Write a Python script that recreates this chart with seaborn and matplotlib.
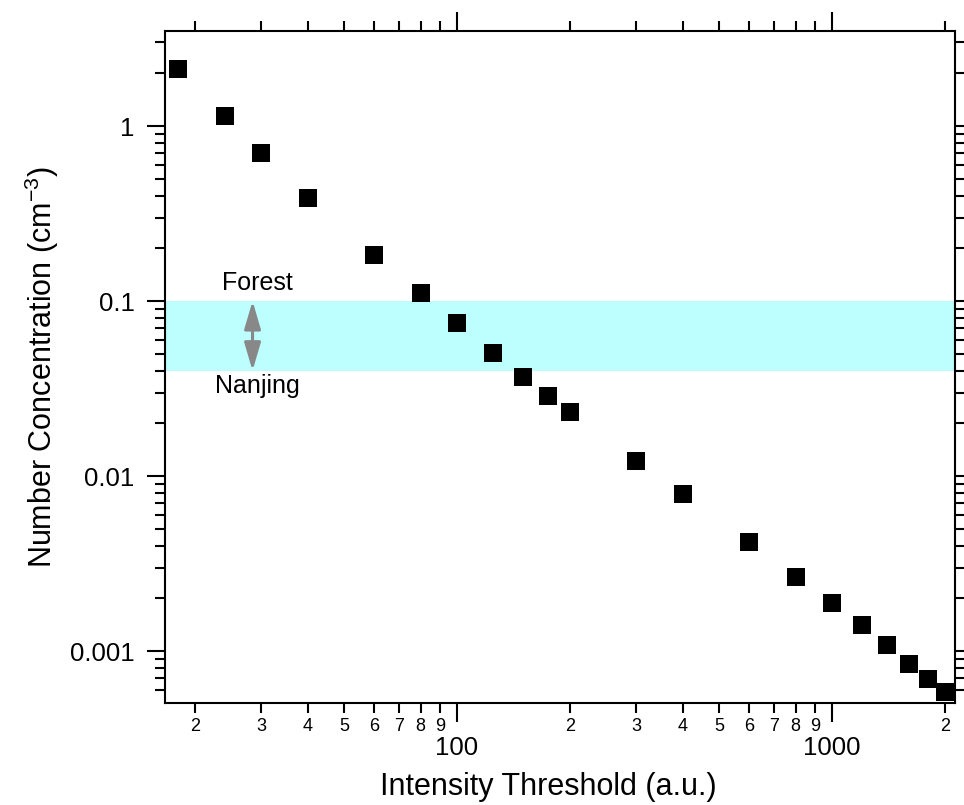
import matplotlib
matplotlib.use("Agg")
import matplotlib.pyplot as plt
import seaborn as sns

# ==========================================
# Data
# ==========================================
threshold = [18, 24, 30, 40, 60, 80, 100, 125, 150, 175, 200,
             300, 400, 600, 800, 1000, 1200, 1400, 1600, 1800, 2000]
concentration = [2.12, 1.14, 0.70, 0.388, 0.183, 0.111, 0.0749, 0.0504,
                 0.0368, 0.0286, 0.0232, 0.0122, 0.00789, 0.0042, 0.00265,
                 0.00188, 0.00141, 0.00108, 0.000843, 0.00069, 0.000583]

band_low, band_high = 0.04, 0.1
band_labels = ["Forest", "Nanjing"]

x_major_ticks = [100, 1000]
x_major_labels = ["100", "1000"]
x_minor_ticks = [20, 30, 40, 50, 60, 70, 80, 90,
                 200, 300, 400, 500, 600, 700, 800, 900, 2000]
x_minor_labels = ["2", "3", "4", "5", "6", "7", "8", "9",
                  "2", "3", "4", "5", "6", "7", "8", "9", "2"]
y_major_ticks = [0.001, 0.01, 0.1, 1]
y_major_labels = ["0.001", "0.01", "0.1", "1"]
y_minor_ticks = [0.0006, 0.0007, 0.0008, 0.0009,
                 0.002, 0.003, 0.004, 0.005, 0.006, 0.007, 0.008, 0.009,
                 0.02, 0.03, 0.04, 0.05, 0.06, 0.07, 0.08, 0.09,
                 0.2, 0.3, 0.4, 0.5, 0.6, 0.7, 0.8, 0.9, 2, 3]

# ==========================================
# Style
# ==========================================
sns.set_style("ticks")
plt.rcParams['font.family'] = ['Liberation Sans', 'DejaVu Sans']
plt.rcParams['mathtext.default'] = 'regular'
for key in ['text.color', 'axes.labelcolor', 'xtick.color', 'ytick.color', 'axes.edgecolor']:
    plt.rcParams[key] = 'black'

fig = plt.figure(figsize=(9.64, 8.05), dpi=100)
ax = fig.add_axes([165 / 964, 1 - 703 / 805, 790 / 964, 672 / 805])

ax.axhspan(band_low, band_high, color='#BDFEFE', lw=0, zorder=0)

sns.scatterplot(x=threshold, y=concentration, marker='s', s=150,
                color='black', edgecolor='black', linewidth=0,
                ax=ax, zorder=3, clip_on=False)

ax.set_xscale('log')
ax.set_yscale('log')
ax.set_xlim(16.65, 2128)
ax.set_ylim(0.000505, 3.49)

# arrow between the two reference levels
ax.annotate('', xy=(28.5, band_high), xytext=(28.5, band_low),
            arrowprops=dict(arrowstyle='<|-|>,head_length=0.85,head_width=0.25',
                            color='#888888', lw=2.2, mutation_scale=20,
                            shrinkA=0, shrinkB=0))
ax.text(29.3, 0.126, band_labels[0], ha='center', va='center', fontsize=18)
ax.text(29.3, 0.0325, band_labels[1], ha='center', va='center', fontsize=18)

# ticks
ax.set_xticks(x_major_ticks)
ax.set_xticklabels(x_major_labels)
ax.set_xticks(x_minor_ticks, minor=True)
ax.set_xticklabels(x_minor_labels, minor=True)
ax.set_yticks(y_major_ticks)
ax.set_yticklabels(y_major_labels)
ax.set_yticks(y_minor_ticks, minor=True)
ax.set_yticklabels([], minor=True)

ax.tick_params(axis='both', which='both', direction='out', width=1.5,
               top=True, right=True, labeltop=False, labelright=False)
ax.tick_params(axis='x', which='major', length=14, labelsize=18.5, pad=10)
ax.tick_params(axis='x', which='minor', length=7.5, labelsize=13, pad=3)
ax.tick_params(axis='y', which='major', length=13, labelsize=18.5, pad=9)
ax.tick_params(axis='y', which='minor', length=7)

for sp in ax.spines.values():
    sp.set_linewidth(1.5)
    sp.set_color('black')

ax.set_xlabel("Intensity Threshold (a.u.)", fontsize=22)
ax.xaxis.set_label_coords((548 - 165) / 790, -0.102)
ax.set_ylabel("Number Concentration (cm$^{-3}$)", fontsize=22, labelpad=6)

fig.savefig("out.png", dpi=100)
